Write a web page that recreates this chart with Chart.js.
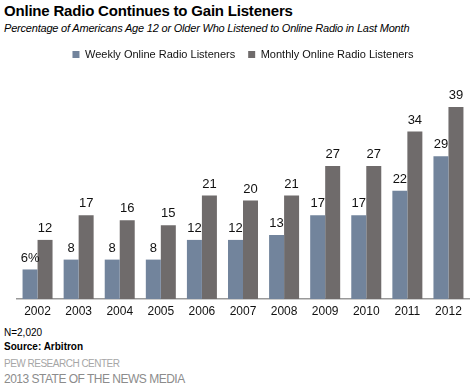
<!DOCTYPE html>
<html>
<head>
<meta charset="utf-8">
<script src="https://cdn.jsdelivr.net/npm/chart.js@4"></script>
<style>
  body { margin: 0; background: #fff; font-family: Arial, "Liberation Sans", sans-serif; }
  #wrap { position: relative; width: 474px; height: 384px; overflow: hidden; }
  .txt { position: absolute; left: 4px; white-space: nowrap; }
  #title { top: 2px; font-size: 15px; font-weight: bold; color: #000; letter-spacing: -0.2px; }
  #sub { top: 22px; font-size: 11px; font-style: italic; color: #000; letter-spacing: -0.2px; }
  #n { top: 327px; font-size: 10px; color: #000; }
  #src { top: 341px; font-size: 10px; font-weight: bold; color: #000; }
  #pew { top: 358px; font-size: 10px; color: #a6a6a6; letter-spacing: -0.5px; }
  #sotnm { top: 372px; font-size: 12px; color: #8c8c8c; letter-spacing: -0.5px; }
  canvas { position: absolute; left: 0; top: 36px; }
</style>
</head>
<body>
<div id="wrap">
  <div class="txt" id="title">Online Radio Continues to Gain Listeners</div>
  <div class="txt" id="sub">Percentage of Americans Age 12 or Older Who Listened to Online Radio in Last Month</div>
  <canvas id="chart" width="474" height="289"></canvas>
  <div class="txt" id="n">N=2,020</div>
  <div class="txt" id="src">Source: Arbitron</div>
  <div class="txt" id="pew">PEW RESEARCH CENTER</div>
  <div class="txt" id="sotnm">2013 STATE OF THE NEWS MEDIA</div>
</div>
<script>
// Chart data
const years = ['2002', '2003', '2004', '2005', '2006', '2007', '2008', '2009', '2010', '2011', '2012'];
const weekly = [6, 8, 8, 8, 12, 12, 13, 17, 17, 22, 29];
const monthly = [12, 17, 16, 15, 21, 20, 21, 27, 27, 34, 39];

// Draws the value labels above each bar
const barLabels = {
    id: 'barLabels',
    afterDatasetsDraw(chart) {
        const ctx = chart.ctx;
        ctx.save();
        ctx.font = '13px Arial, "Liberation Sans", sans-serif';
        ctx.fillStyle = '#111';
        ctx.textAlign = 'center';
        ctx.textBaseline = 'bottom';
        chart.data.datasets.forEach((ds, i) => {
            chart.getDatasetMeta(i).data.forEach((bar, j) => {
                let label = String(ds.data[j]);
                if (i === 0 && j === 0) label += '%';
                ctx.fillText(label, bar.x, bar.y - 5);
            });
        });
        ctx.restore();
    }
};

new Chart(document.getElementById('chart'), {
    type: 'bar',
    data: {
        labels: years,
        datasets: [{
            label: 'Weekly Online Radio Listeners',
            data: weekly,
            backgroundColor: '#72849c'
        }, {
            label: 'Monthly Online Radio Listeners',
            data: monthly,
            backgroundColor: '#6f6b6b'
        }]
    },
    options: {
        responsive: false,
        animation: false,
        layout: { padding: { left: 17, right: 5, top: 0, bottom: 0 } },
        datasets: { bar: { categoryPercentage: 0.73, barPercentage: 1 } },
        plugins: {
            tooltip: { enabled: false },
            legend: {
                position: 'top',
                labels: {
                    boxWidth: 7,
                    boxHeight: 7,
                    padding: 13,
                    color: '#111',
                    font: { size: 11, family: 'Arial, "Liberation Sans", sans-serif' }
                }
            }
        },
        scales: {
            x: {
                grid: { display: false, drawTicks: false },
                border: { color: '#999', width: 1.5 },
                ticks: {
                    color: '#111',
                    padding: 7,
                    font: { size: 12, lineHeight: 1, family: 'Arial, "Liberation Sans", sans-serif' }
                }
            },
            y: {
                display: false,
                min: 0,
                max: 46.5
            }
        }
    },
    plugins: [barLabels]
});
</script>
</body>
</html>
